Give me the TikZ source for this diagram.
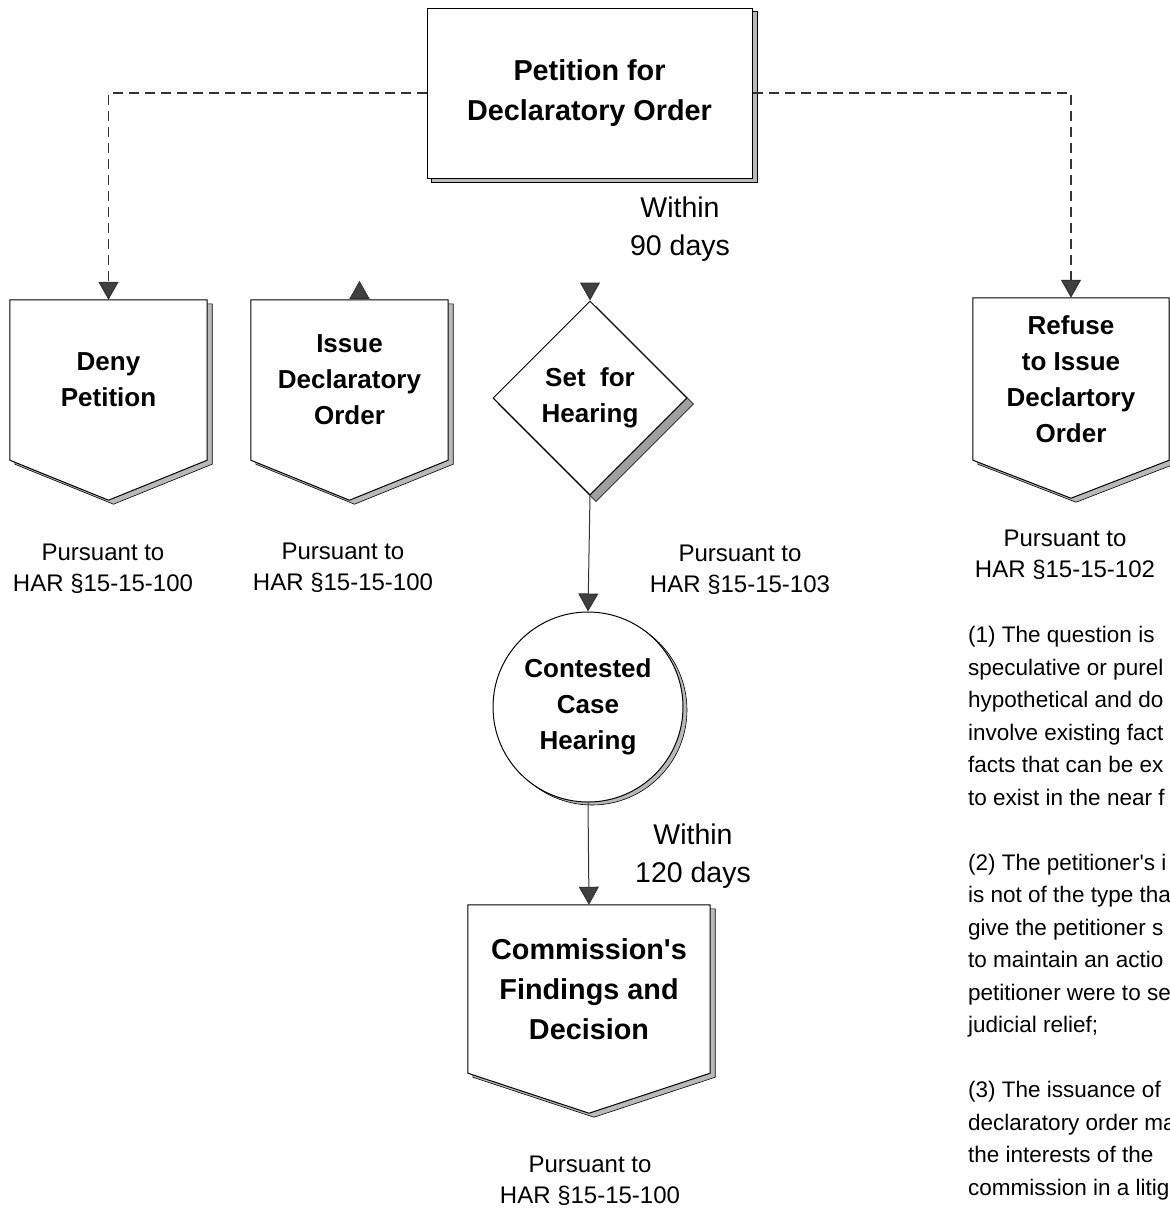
\documentclass[tikz,border=0pt]{standalone}
\usepackage{fontspec}
\setmainfont{Liberation Sans}
\usetikzlibrary{shapes.geometric, arrows.meta, positioning, backgrounds, calc}

% off-page shape: shadow + outline behind a named node (#2 = depth of the point)
\newcommand{\offpage}[2]{%
  \draw[shade_fill] ($(#1.north west)+(5,4)$) -- ($(#1.north east)+(5,4)$) -- ($(#1.south east)+(5,4)$)
    -- ($(#1.south)+(5,#2+4)$) -- ($(#1.south west)+(5,4)$) -- cycle;
  \draw[box_line, fill=white] (#1.north west) -- (#1.north east) -- (#1.south east)
    -- ($(#1.south)+(0,#2)$) -- (#1.south west) -- cycle;}

\begin{document}
\begin{tikzpicture}[
    x=1pt, y=-1pt,
    box_line/.style={draw=black, line width=1pt},
    shade_fill/.style={draw=black, line width=0.6pt, fill=gray!55},
    offpage_node/.style={rectangle, draw=none, inner sep=0pt, align=center, font=\fontsize{26}{36}\selectfont\bfseries},
    big_node/.style={offpage_node, font=\fontsize{28.8}{40}\selectfont\bfseries},
    har_label/.style={inner sep=0pt, align=center, font=\fontsize{24}{31}\selectfont},
    within_label/.style={inner sep=0pt, align=center, font=\fontsize{28.5}{38}\selectfont},
    reason_text/.style={inner sep=0pt, align=left, font=\fontsize{22.5}{32.5}\selectfont},
    tip/.style={-{Triangle[length=18pt, width=20pt, fill=black!75]}},
    flow_arrow/.style={draw=black!80, line width=1pt, tip},
    dash_arrow/.style={draw=black!80, line width=1.2pt, dash pattern=on 10pt off 6pt, tip}
]
\useasboundingbox (0,0) rectangle (1170,1211);

% --- Start ---
\node[big_node, box_line, fill=white, minimum width=325pt, minimum height=170pt] (petition) at (589.5,93) {Petition for\\Declaratory Order};

% --- Outcomes ---
\node[offpage_node, minimum width=197pt, minimum height=160pt] (deny) at (108.5,380) {Deny\\Petition};
\node[offpage_node, minimum width=197pt, minimum height=160pt] (issue) at (349.5,380) {Issue\\Declaratory\\Order};
\node[offpage_node, minimum width=196pt, minimum height=162pt] (refuse) at (1071,379) {Refuse\\to Issue\\Declartory\\Order};
\node[diamond, aspect=1, box_line, fill=white, inner sep=0pt, minimum width=194pt, minimum height=194pt,
      align=center, font=\fontsize{26}{36}\selectfont\bfseries] (hearing) at (590,398) {Set\ \ for\\Hearing};

% --- Hearing and decision ---
\node[circle, box_line, fill=white, inner sep=0pt, minimum size=190pt,
      align=center, font=\fontsize{26}{36}\selectfont\bfseries] (contested) at (588,707) {Contested\\Case\\Hearing};
\node[big_node, minimum width=242pt, minimum height=168pt] (commission) at (589,989) {Commission\textquotesingle s\\Findings and\\Decision};

% --- Shadows and outlines ---
\begin{scope}[on background layer]
  \draw[shade_fill] ($(petition.north west)+(5,4)$) rectangle ($(petition.south east)+(5,4)$);
  \offpage{deny}{40}
  \offpage{issue}{40}
  \offpage{refuse}{38}
  \offpage{commission}{40}
  \draw[shade_fill, fill=gray!75] ($(hearing.north)+(6,6)$) -- ($(hearing.east)+(6,6)$) -- ($(hearing.south)+(6,6)$) -- ($(hearing.west)+(6,6)$) -- cycle;
  \draw[shade_fill] ($(contested.center)+(4,3)$) circle[radius=95pt];
\end{scope}

% --- Connectors ---
\draw[dash_arrow] (petition.west) -| (deny.north);
\draw[dash_arrow] (petition.east) -| (refuse.north);
\draw[flow_arrow] ($(hearing.north)+(0,-18)$) -- (hearing.north);
\draw[flow_arrow] ($(issue.north)+(10,-2)$) -- ($(issue.north)+(10,-19)$);
\draw[flow_arrow] (hearing.south) -- (contested.north);
\draw[flow_arrow] (contested.south) -- (commission.north);

% --- Labels ---
\node[within_label] (within90) at (680,229) {Within\\90 days};
\node[within_label] (within120) at (693,856) {Within\\120 days};
\node[har_label] (deny_har) at (103,569) {Pursuant to\\HAR §15-15-100};
\node[har_label] (issue_har) at (343,568) {Pursuant to\\HAR §15-15-100};
\node[har_label] (hearing_har) at (740,570) {Pursuant to\\HAR §15-15-103};
\node[har_label] (refuse_har) at (1065,555) {Pursuant to\\HAR §15-15-102};
\node[har_label] (commission_har) at (590,1181) {Pursuant to\\HAR §15-15-100};

% --- Reasons for refusal ---
\node[reason_text, anchor=north west] (reasons) at (968,626) {(1) The question is\\
speculative or purel\\hypothetical and do\\involve existing fact\\facts that can be ex\\to exist in the near f\\[32.5pt]
(2) The petitioner\textquotesingle s i\\is not of the type tha\\give the petitioner s\\to maintain an actio\\petitioner were to se\\judicial relief;\\[32.5pt]
(3) The issuance of\\declaratory order ma\\the interests of the\\commission in a litig};

\end{tikzpicture}
\end{document}
